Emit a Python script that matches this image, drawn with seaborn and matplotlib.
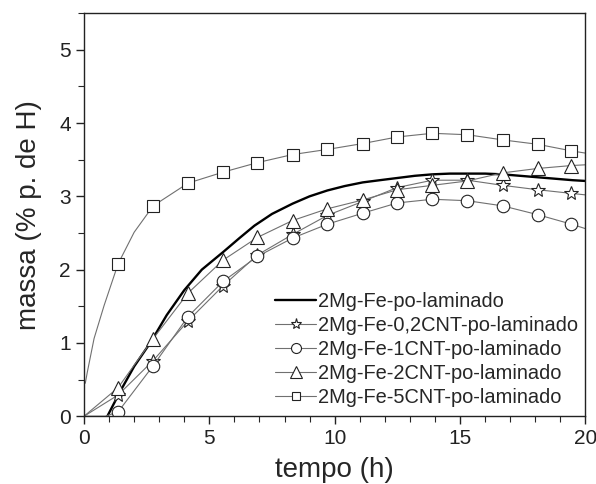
import matplotlib
matplotlib.use("Agg")
import matplotlib.pyplot as plt
from matplotlib.ticker import MultipleLocator
import pandas as pd
import seaborn as sns

# marker positions (h), shared by the CNT series
x_marks = [1.36, 2.76, 4.15, 5.55, 6.92, 8.32, 9.71, 11.12, 12.5, 13.9, 15.3, 16.7, 18.1, 19.45]

y_star = [0.29, 0.76, 1.30, 1.78, 2.20, 2.48, 2.74, 2.93, 3.12, 3.22, 3.22, 3.15, 3.09, 3.04]
y_circle = [0.06, 0.69, 1.36, 1.84, 2.18, 2.43, 2.62, 2.77, 2.91, 2.96, 2.94, 2.87, 2.75, 2.62]
y_triangle = [0.39, 1.06, 1.68, 2.13, 2.44, 2.67, 2.83, 2.95, 3.09, 3.15, 3.21, 3.32, 3.38, 3.42]
y_square = [2.08, 2.87, 3.18, 3.33, 3.46, 3.57, 3.64, 3.72, 3.81, 3.86, 3.84, 3.77, 3.71, 3.62]

# extra (unmarked) points
extra_star = ([0.0, 20.0], [0.0, 3.02])
extra_circle = ([0.0, 0.85, 20.0], [0.0, 0.0, 2.56])
extra_triangle = ([0.0, 20.0], [0.0, 3.43])
extra_square = ([0.05, 0.13, 0.4, 0.8, 2.0, 20.0], [0.45, 0.60, 1.06, 1.51, 2.51, 3.59])

# reference curve without markers
x_base = [0.93, 1.46, 2.0, 2.66, 3.3, 4.0, 4.7, 5.55, 6.2, 6.8, 7.5, 8.32, 9.0, 9.71, 10.4,
          11.12, 11.8, 12.5, 13.2, 13.9, 14.6, 15.3, 16.0, 16.7, 17.4, 18.1, 18.8, 19.5, 20.0]
y_base = [0.0, 0.35, 0.68, 1.01, 1.38, 1.72, 2.0, 2.24, 2.43, 2.60, 2.76, 2.90, 3.00, 3.08, 3.14,
          3.19, 3.22, 3.25, 3.28, 3.30, 3.31, 3.31, 3.31, 3.30, 3.28, 3.26, 3.24, 3.22, 3.21]

labels = [
    "2Mg-Fe-po-laminado",
    "2Mg-Fe-0,2CNT-po-laminado",
    "2Mg-Fe-1CNT-po-laminado",
    "2Mg-Fe-2CNT-po-laminado",
    "2Mg-Fe-5CNT-po-laminado",
]

sns.set_style("ticks")
plt.rcParams["font.family"] = ["Liberation Sans", "DejaVu Sans"]
plt.rcParams["xtick.direction"] = "out"
plt.rcParams["ytick.direction"] = "out"

fig = plt.figure(figsize=(5.96, 4.84), dpi=100)
ax = fig.add_axes([0.141, 0.140, 0.841, 0.833])

sns.lineplot(x=x_base, y=y_base, color="black", linewidth=1.7, sort=False,
             label=labels[0], ax=ax)

series = [
    (y_star, extra_star, "*", 10, labels[1]),
    (y_circle, extra_circle, "o", 9, labels[2]),
    (y_triangle, extra_triangle, "^", 10, labels[3]),
    (y_square, extra_square, "s", 8, labels[4]),
]
for ys, extra, mk, ms, lab in series:
    df = pd.concat([
        pd.DataFrame({"x": x_marks, "y": ys, "marked": True}),
        pd.DataFrame({"x": extra[0], "y": extra[1], "marked": False}),
    ]).sort_values("x").reset_index(drop=True)
    every = df.index[df["marked"]].tolist()
    sns.lineplot(data=df, x="x", y="y", sort=False, color="#707070", linewidth=0.8,
                 marker=mk, markersize=ms, markerfacecolor="white",
                 markeredgecolor="#222222", markeredgewidth=0.8,
                 markevery=every, label=lab, ax=ax)

ax.set_xlim(0, 20)
ax.set_ylim(0, 5.5)
ax.xaxis.set_major_locator(MultipleLocator(5))
ax.xaxis.set_minor_locator(MultipleLocator(1))
ax.yaxis.set_major_locator(MultipleLocator(1))
ax.yaxis.set_minor_locator(MultipleLocator(0.5))
ax.set_yticks([0, 1, 2, 3, 4, 5])
ax.tick_params(which="major", length=6, width=1, labelsize=15, colors="#222222")
ax.tick_params(which="minor", length=4, width=0.8)
for s in ax.spines.values():
    s.set_linewidth(1.0)
    s.set_color("#222222")
    s.set_visible(True)

ax.set_xlabel("tempo (h)", fontsize=20, labelpad=6)
ax.set_ylabel("massa (% p. de H)", fontsize=20, labelpad=12)

leg = ax.legend(loc="lower left", bbox_to_anchor=(0.381, 0.022), frameon=False,
                fontsize=14.4, handlelength=2.05, handletextpad=0.1,
                labelspacing=0.25, borderpad=0, borderaxespad=0)
for h in leg.legend_handles:
    if h.get_marker() not in (None, "None", ""):
        h.set_markevery([1])
        h.set_markersize(h.get_markersize() * 0.8)

fig.savefig("out.png", dpi=100)
